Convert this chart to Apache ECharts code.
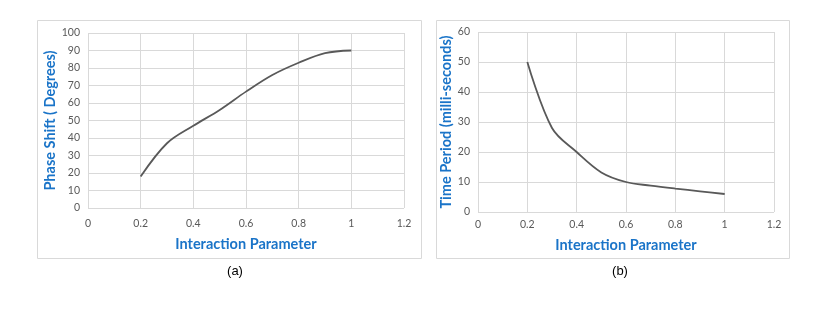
<!DOCTYPE html>
<html><head><meta charset="utf-8">
<script src="https://cdn.jsdelivr.net/npm/echarts@6/dist/echarts.min.js"></script>
<style>html,body{margin:0;padding:0;background:#fff}#c{width:834px;height:314px}</style>
</head><body><div id="c"></div>
<script>
const xA = [0.2, 0.3, 0.4, 0.5, 0.6, 0.7, 0.8, 0.9, 1.0];
const phaseShift = [18, 37, 47, 56, 66.5, 76, 83, 88.5, 90];
const xB = [0.2, 0.3, 0.4, 0.5, 0.6, 0.7, 0.8, 0.9, 1.0];
const timePeriod = [50, 28, 20, 13.2, 10, 8.8, 7.8, 6.9, 6];
const xTitle = 'Interaction Parameter';
const yTitleA = 'Phase Shift ( Degrees)';
const yTitleB = 'Time Period (milli-seconds)';
const captions = ['(a)', '(b)'];

const chart = echarts.init(document.getElementById('c'), null, {renderer: 'canvas'});
const blue = '#1A74C8';
const tickFont = {color: '#595959', fontSize: 10.5, fontFamily: 'Lato'};
const nameFont = {color: blue, fontSize: 14.5, fontWeight: 'bold', fontFamily: 'Lato'};
const grid = '#d9d9d9';
function xAxis(i, margin, gap) {
  return {
    type: 'value', gridIndex: i, min: 0, max: 1.2, interval: 0.2,
    axisLine: {show: false}, axisTick: {show: false},
    splitLine: {show: true, lineStyle: {color: grid, width: 1}},
    axisLabel: Object.assign({margin: margin, formatter: v => String(parseFloat(v.toFixed(1)))}, tickFont),
    name: xTitle, nameLocation: 'middle', nameGap: gap, nameTextStyle: nameFont
  };
}
function yAxis(i, max, name, gap) {
  return {
    type: 'value', gridIndex: i, min: 0, max: max, interval: 10,
    axisLine: {show: false}, axisTick: {show: false},
    splitLine: {show: true, lineStyle: {color: grid, width: 1}},
    axisLabel: Object.assign({margin: 8}, tickFont),
    name: name, nameLocation: 'middle', nameGap: gap, nameTextStyle: nameFont
  };
}
chart.setOption({
  animation: false,
  grid: [
    {left: 88, top: 33, width: 316, height: 175},
    {left: 478, top: 32, width: 296, height: 180}
  ],
  xAxis: [xAxis(0, 10, 29), xAxis(1, 7, 26)],
  yAxis: [yAxis(0, 100, yTitleA, 25), yAxis(1, 60, yTitleB, 22)],
  series: [
    {type: 'line', xAxisIndex: 0, yAxisIndex: 0, data: xA.map((x, i) => [x, phaseShift[i]]),
     smooth: 0.35, showSymbol: false, lineStyle: {color: '#595959', width: 1.8}},
    {type: 'line', xAxisIndex: 1, yAxisIndex: 1, data: xB.map((x, i) => [x, timePeriod[i]]),
     smooth: 0.35, showSymbol: false, lineStyle: {color: '#595959', width: 1.8}}
  ],
  graphic: [
    {type: 'rect', shape: {x: 37.5, y: 20.5, width: 384, height: 238}, style: {fill: 'none', stroke: '#d9d9d9', lineWidth: 1}, z: -1},
    {type: 'rect', shape: {x: 436.5, y: 20.5, width: 353, height: 238}, style: {fill: 'none', stroke: '#d9d9d9', lineWidth: 1}, z: -1},
    {type: 'text', x: 235, y: 271, style: {text: captions[0], font: '13px "Liberation Sans"', fill: '#000', textAlign: 'center', textVerticalAlign: 'middle'}},
    {type: 'text', x: 620, y: 271, style: {text: captions[1], font: '13px "Liberation Sans"', fill: '#000', textAlign: 'center', textVerticalAlign: 'middle'}}
  ]
});
</script></body></html>
